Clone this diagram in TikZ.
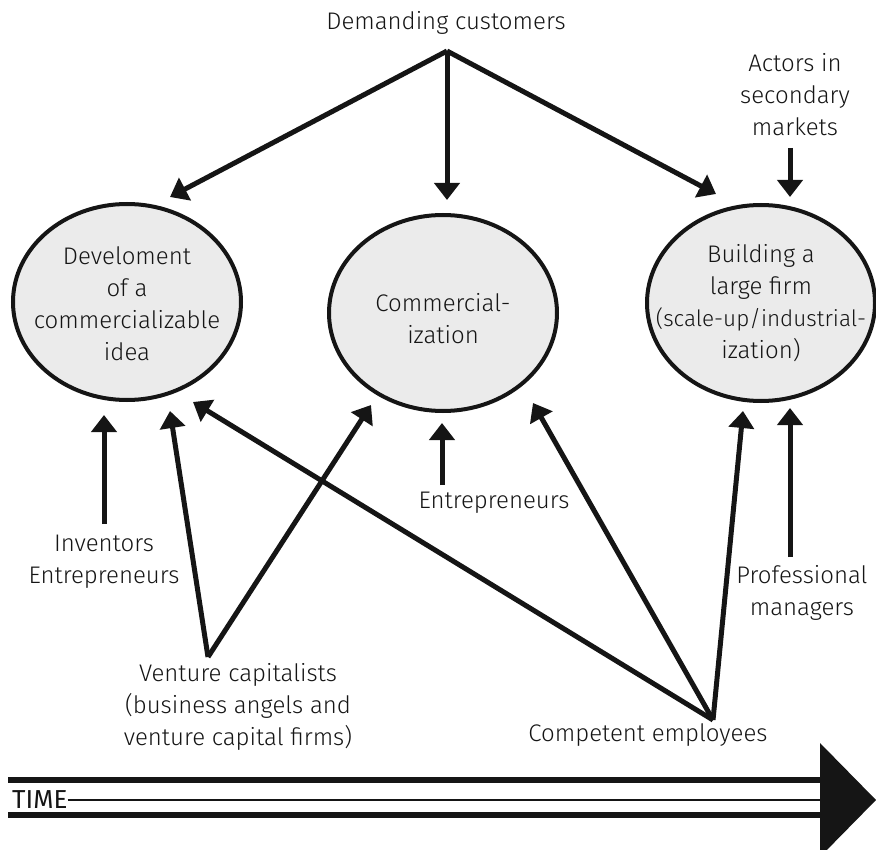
\documentclass[tikz,border=0pt]{standalone}
\usepackage{fontspec}
\setmainfont{Fira Sans}[UprightFont=* Light, BoldFont=*]
\usetikzlibrary{arrows.meta,shapes.geometric}
\definecolor{ink}{HTML}{151515}
\definecolor{ellfill}{HTML}{EBEBEB}
\begin{document}
\begin{tikzpicture}[x=1pt,y=-1pt,
  txt/.style={font=\fontsize{24}{32}\selectfont, text=ink, align=center, inner sep=0pt},
  ell/.style={ellipse, draw=ink, line width=4pt, fill=ellfill, minimum width=228pt, minimum height=196pt, inner sep=0pt},
  arr/.style={draw=ink, line width=5pt, -{Triangle[length=17pt,width=25pt]}},
  band/.style={fill=ink},
]
\useasboundingbox (0,0) rectangle (876,850);
\clip (0,0) rectangle (876,850);

% stages
\node[ell] (e1) at (127,302) {};
\node[txt] (e1t) at (127,304) {Develoment\\of a\\commercializable\\idea};
\node[ell] (e2) at (443,313) {};
\node[txt] (e2t) at (443,319) {Commercial-\\ization};
\node[ell] (e3) at (761,303) {};
\node[txt] (e3t) at (761,303) {Building a\\large firm\\{\fontsize{22.5}{32}\selectfont(scale-up/industrial-}\\ization)};

% actors
\node[txt] (dc) at (446,23) {Demanding customers};
\node[txt] (act) at (795,95) {Actors in\\secondary\\markets};
\node[txt] (inv) at (104,562) {Inventors\\Entrepreneurs};
\node[txt] (vc) at (238,707) {Venture capitalists\\(business angels and\\venture capital firms)};
\node[txt] (ent) at (494,503) {Entrepreneurs};
\node[txt] (ce) at (648,735) {Competent employees};
\node[txt] (pm) at (802,593) {Professional\\managers};

% connector ends
\coordinate (dcA) at (447,51);
\coordinate (dc1) at (170,197);
\coordinate (dc2) at (447,200);
\coordinate (dc3) at (716,194);
\coordinate (actA) at (790,148);
\coordinate (actT) at (790,197);
\coordinate (invA) at (104,524);
\coordinate (invT) at (104,415);
\coordinate (vcA) at (208,657);
\coordinate (vc1) at (170,411);
\coordinate (vc2) at (371,405);
\coordinate (entA) at (442,485);
\coordinate (entT) at (442,423);
\coordinate (ceA) at (713,720);
\coordinate (ce1) at (193,402);
\coordinate (ce2) at (533,403);
\coordinate (ce3) at (743,411);
\coordinate (pmA) at (790,557);
\coordinate (pmT) at (790,408);

\draw[arr] (dcA) -- (dc1);
\draw[arr] (dcA) -- (dc2);
\draw[arr] (dcA) -- (dc3);
\draw[arr] (actA) -- (actT);
\draw[arr] (invA) -- (invT);
\draw[arr] (vcA) -- (vc1);
\draw[arr] (vcA) -- (vc2);
\draw[arr] (entA) -- (entT);
\draw[arr] (ceA) -- (ce1);
\draw[arr] (ceA) -- (ce2);
\draw[arr] (ceA) -- (ce3);
\draw[arr] (pmA) -- (pmT);

% time arrow
\node[font=\fontsize{26}{26}\selectfont\bfseries, text=ink, inner sep=0pt, anchor=west] (time) at (12,800) {TIME};
\coordinate (timeEnd) at (821,800);
\fill[band] (8,777) rectangle (822,783);
\fill[band] (8,812) rectangle (822,818);
\draw[ink, line width=1.6pt] (time.east) -- (timeEnd);
\fill[ink] (820,743) -- (876,800) -- (820,857) -- cycle;
\end{tikzpicture}
\end{document}
